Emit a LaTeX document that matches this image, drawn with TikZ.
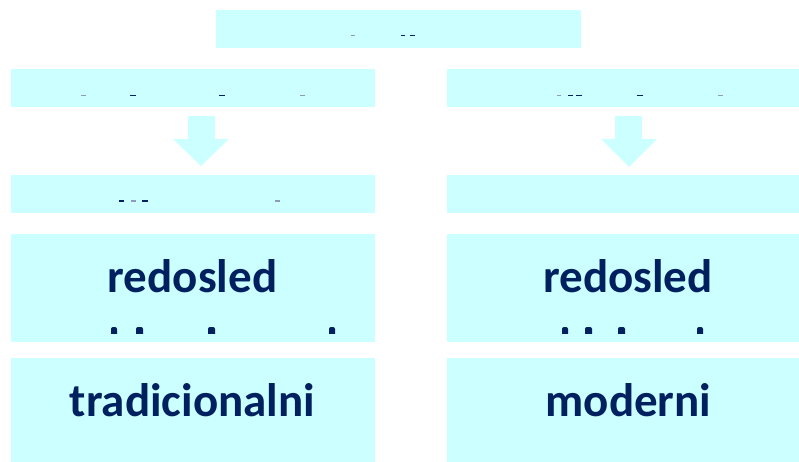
\documentclass[tikz,border=0pt]{standalone}
\usepackage{fontspec}
\setmainfont{Carlito}
\definecolor{boxfill}{HTML}{CCFFFF}
\definecolor{ink}{HTML}{002060}
\begin{document}
\begin{tikzpicture}[x=1pt,y=-1pt,
  panel/.style={fill=boxfill, draw=none, inner sep=0pt, anchor=north west,
                minimum width=364pt},
  label/.style={text=ink, font=\bfseries\fontsize{47}{56}\selectfont,
                inner sep=0pt, anchor=base},
  cut/.style={fill=ink},
  faint/.style={fill=ink!45},
  dot/.style={fill=ink, rounded corners=2pt},
  blockarrow/.style={fill=boxfill}]
\useasboundingbox (0,0) rectangle (799,461);
\clip (0,0) rectangle (799,461);

% title bar
\node[panel, minimum width=365pt, minimum height=38pt] (title) at (216,10) {};

% left column
\node[panel, minimum height=38pt]  (l1) at (11,69)  {};
\node[panel, minimum height=38pt]  (l2) at (11,175) {};
\node[panel, minimum height=108pt] (l3) at (11,234) {};
\node[panel, minimum height=104pt] (l4) at (11,358) {};

% right column (runs past the right edge)
\node[panel, minimum height=38pt]  (r1) at (447,69)  {};
\node[panel, minimum height=38pt]  (r2) at (447,175) {};
\node[panel, minimum height=108pt] (r3) at (447,234) {};
\node[panel, minimum height=104pt] (r4) at (447,358) {};

% down arrows between the first two rows
\fill[blockarrow] (188,116) -- (215,116) -- (215,139) -- (229,139)
  -- (201,166) -- (173,139) -- (188,139) -- cycle;
\fill[blockarrow] (615,116) -- (642,116) -- (642,139) -- (657,139)
  -- (629,167) -- (601,139) -- (615,139) -- cycle;

% large labels
\node[label] (t3l) at (192.5,292) {redosled};
\node[label] (t3r) at (628,292)   {redosled};
\node[label] (t4l) at (192.5,416) {tradicionalni};
\node[label] (t4r) at (628.5,416) {moderni};

% tops of the clipped text lines
\fill[faint] (351,34.7) rectangle (355,36);
\fill[cut]   (401,34.7) rectangle (405,36);
\fill[cut]   (410,34.7) rectangle (415,36);

\fill[faint] (81,94.5)  rectangle (86,96);
\fill[cut]   (130,94.5) rectangle (136,96);
\fill[cut]   (219,94.5) rectangle (225,96);
\fill[faint] (300,94.5) rectangle (305,96);

\fill[faint] (557,94.5) rectangle (561,96);
\fill[cut]   (568,94.5) rectangle (573,96);
\fill[cut]   (576,94.5) rectangle (582,96);
\fill[cut]   (637,94.5) rectangle (643,96);
\fill[faint] (718,94.5) rectangle (723,96);

\fill[cut]   (119,200.3) rectangle (124,202);
\fill[faint] (131,200.3) rectangle (136,202);
\fill[cut]   (142,200.3) rectangle (148,202);
\fill[faint] (275,200.3) rectangle (280,202);

\begin{scope}
  \clip (0,320) rectangle (799,333);
  \fill[dot] (111,327) rectangle (117,336);
  \fill[dot] (136,327) rectangle (143,336);
  \fill[dot] (208,327) rectangle (215,336);
  \fill[dot] (329,327) rectangle (335,336);
  \fill[dot] (562,327) rectangle (568,336);
  \fill[dot] (585,327) rectangle (592,336);
  \fill[dot] (618,327) rectangle (625,336);
  \fill[dot] (697,327) rectangle (703,336);
\end{scope}
\end{tikzpicture}
\end{document}
